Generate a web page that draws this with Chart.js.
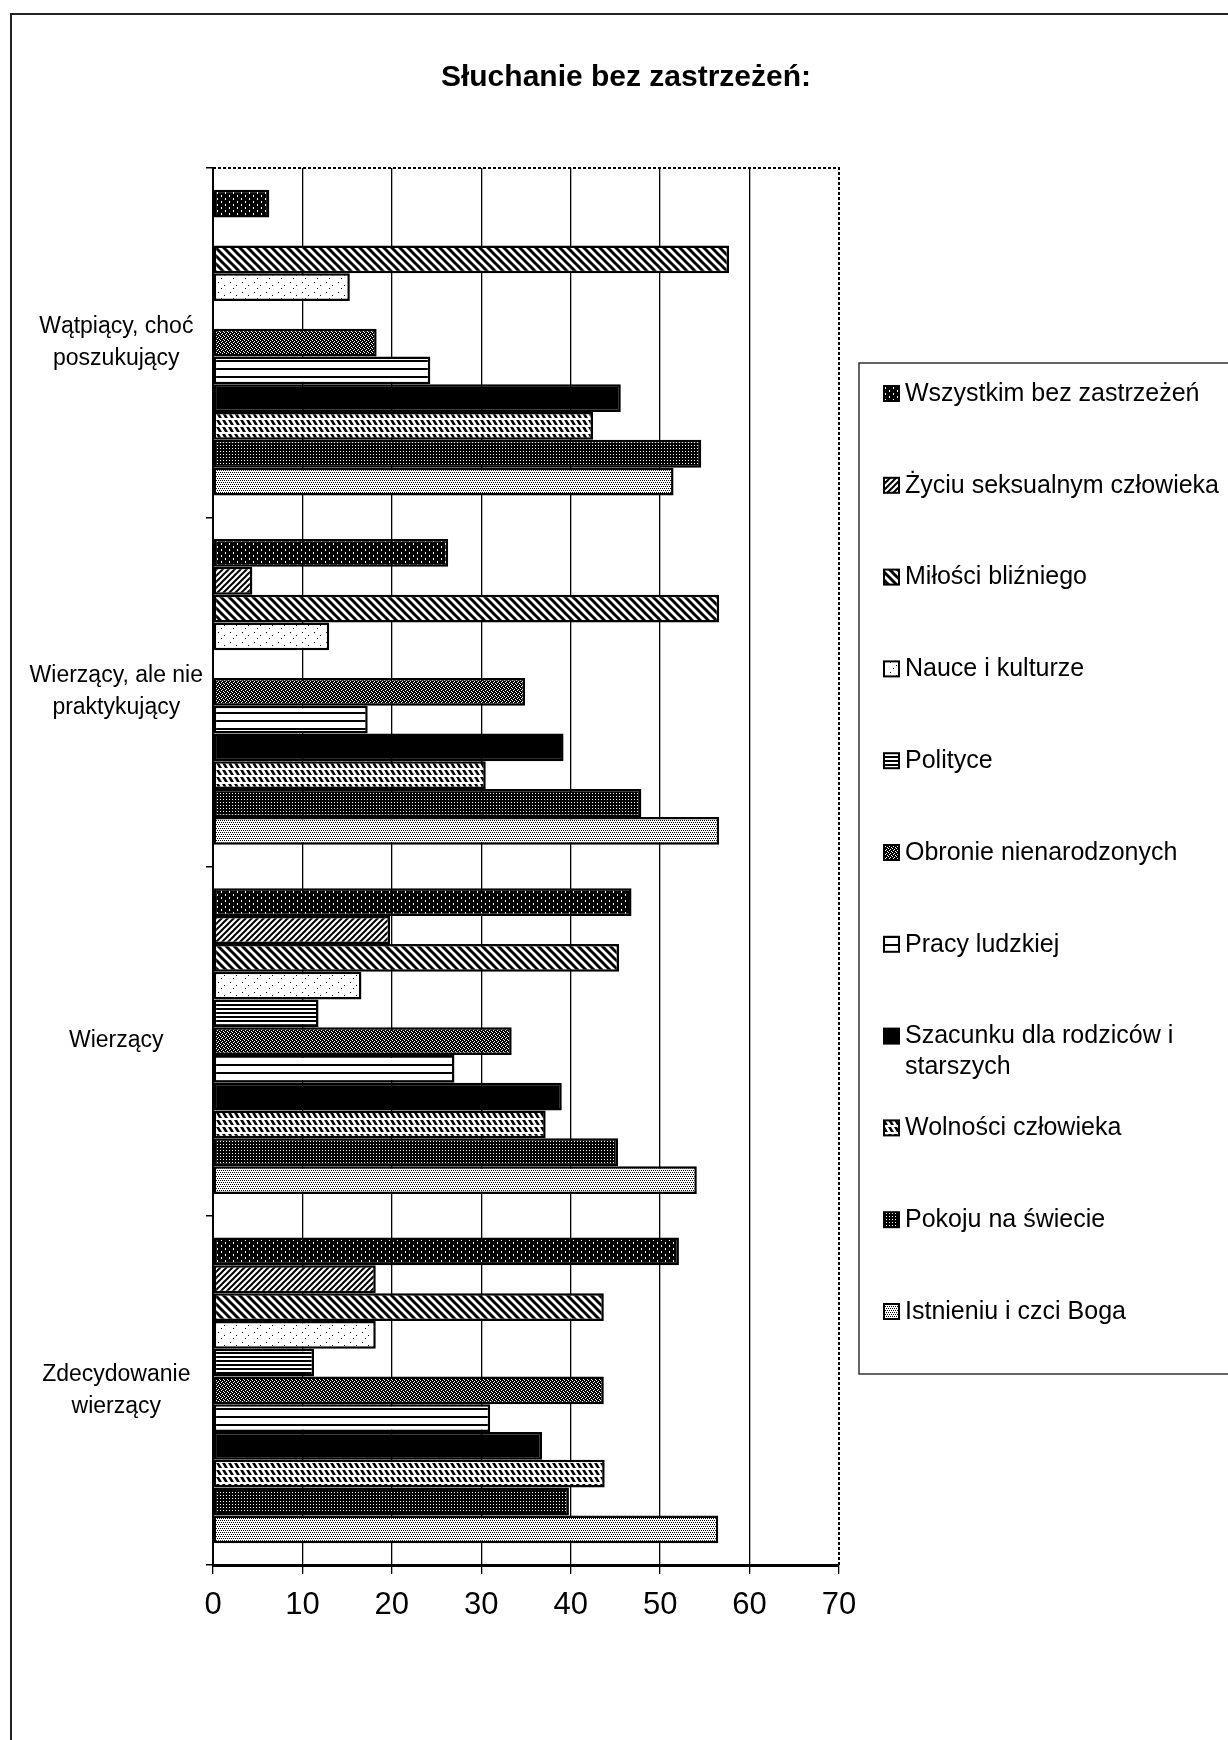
<!DOCTYPE html>
<html>
<head>
<meta charset="utf-8">
<script src="https://cdn.jsdelivr.net/npm/chart.js@4/dist/chart.umd.min.js"></script>
<style>
  body { margin: 0; background: #fff; }
  canvas { display: block; }
</style>
</head>
<body>
<canvas id="chart" width="1228" height="1740"></canvas>
<script>
const FONT = "'Liberation Sans', Arial, sans-serif";

const titleText = "Słuchanie bez zastrzeżeń:";
const categories = [
  ["Wątpiący, choć", "poszukujący"],
  ["Wierzący, ale nie", "praktykujący"],
  "Wierzący",
  ["Zdecydowanie", "wierzący"]
];
const seriesNames = [
  "Wszystkim bez zastrzeżeń",
  "Życiu seksualnym człowieka",
  "Miłości bliźniego",
  "Nauce i kulturze",
  "Polityce",
  "Obronie nienarodzonych",
  "Pracy ludzkiej",
  ["Szacunku dla rodziców i", "starszych"],
  "Wolności człowieka",
  "Pokoju na świecie",
  "Istnieniu i czci Boga"
];
const wszystkim = [6.3, 26.3, 46.8, 52.1];
const zyciu = [0, 4.4, 19.8, 18.2];
const milosci = [57.7, 56.6, 45.4, 43.7];
const nauce = [15.3, 13.0, 16.6, 18.2];
const polityce = [0, 0, 11.8, 11.3];
const obronie = [18.3, 34.9, 33.4, 43.7];
const pracy = [24.3, 17.3, 27.0, 31.0];
const szacunku = [45.6, 39.2, 39.0, 36.8];
const wolnosci = [42.5, 30.5, 37.2, 43.8];
const pokoju = [54.6, 47.9, 45.3, 39.8];
const istnieniu = [51.5, 56.6, 54.1, 56.5];
const xTicks = [0, 10, 20, 30, 40, 50, 60, 70];

// black & white fill patterns like the old Excel print
function makePattern(w, h, draw) {
  const c = document.createElement("canvas");
  c.width = w;
  c.height = h;
  const g = c.getContext("2d");
  g.fillStyle = "#fff";
  g.fillRect(0, 0, w, h);
  g.fillStyle = "#000";
  g.strokeStyle = "#000";
  draw(g, w, h);
  return g.createPattern(c, "repeat");
}

const patterns = [
  makePattern(8, 6, (g) => {
    g.fillRect(0, 0, 8, 6);
    g.fillStyle = "#fff";
    g.fillRect(1, 0, 1, 2);
    g.fillRect(5, 3, 1, 2);
  }),
  makePattern(6, 6, (g) => {
    g.lineWidth = 2;
    for (let o = -6; o <= 6; o += 6) {
      g.beginPath();
      g.moveTo(-1 + o, 7);
      g.lineTo(7 + o, -1);
      g.stroke();
    }
  }),
  makePattern(8, 8, (g) => {
    g.lineWidth = 3;
    for (let o = -8; o <= 8; o += 8) {
      g.beginPath();
      g.moveTo(-1 + o, -1);
      g.lineTo(9 + o, 9);
      g.stroke();
    }
  }),
  makePattern(12, 10, (g) => {
    g.fillRect(2, 2, 1, 1);
    g.fillRect(8, 5, 1, 1);
    g.fillRect(5, 8, 1, 1);
  }),
  makePattern(4, 4, (g) => {
    g.fillRect(0, 0, 4, 2);
  }),
  makePattern(4, 4, (g) => {
    g.fillRect(0, 0, 4, 4);
    g.fillStyle = "#fff";
    g.fillRect(0, 0, 1, 1);
    g.fillRect(2, 1, 1, 1);
    g.fillRect(1, 2, 1, 1);
    g.fillRect(3, 3, 1, 1);
  }),
  makePattern(4, 8, (g) => {
    g.fillRect(0, 0, 4, 2);
  }),
  "#000",
  makePattern(6, 7, (g) => {
    for (let o = -6; o <= 6; o += 6) {
      g.beginPath();
      g.moveTo(o, 0);
      g.lineTo(o + 3, 0);
      g.lineTo(o + 6, 5);
      g.lineTo(o + 3, 5);
      g.closePath();
      g.fill();
    }
  }),
  makePattern(3, 3, (g) => {
    g.fillRect(0, 0, 3, 3);
    g.fillStyle = "#fff";
    g.fillRect(1, 1, 1, 1);
  }),
  makePattern(4, 4, (g) => {
    g.fillRect(0, 0, 1, 1);
    g.fillRect(2, 0, 1, 1);
    g.fillRect(1, 2, 1, 1);
    g.fillRect(3, 2, 1, 1);
  })
];

const seriesValues = [wszystkim, zyciu, milosci, nauce, polityce, obronie, pracy, szacunku, wolnosci, pokoju, istnieniu];

const datasets = seriesNames.map((name, i) => ({
  label: name,
  data: seriesValues[i],
  backgroundColor: patterns[i],
  borderColor: "#000",
  borderWidth: 2.5,
  borderSkipped: false,
  categoryPercentage: 0.875,
  barPercentage: 1.0
}));

// page frame, title, dashed plot border and the boxed legend
const decor = {
  id: "decor",
  beforeDraw(chart) {
    const ctx = chart.ctx;
    ctx.save();
    ctx.fillStyle = "#fff";
    ctx.fillRect(0, 0, chart.width, chart.height);
    ctx.strokeStyle = "#222";
    ctx.lineWidth = 2;
    ctx.beginPath();
    ctx.moveTo(11, chart.height);
    ctx.lineTo(11, 14);
    ctx.lineTo(chart.width, 14);
    ctx.stroke();
    ctx.fillStyle = "#000";
    ctx.font = "bold 30px " + FONT;
    ctx.textAlign = "center";
    ctx.textBaseline = "middle";
    ctx.fillText(titleText, 626, 78);
    ctx.restore();
  },
  afterDraw(chart) {
    const ctx = chart.ctx;
    const a = chart.chartArea;
    ctx.save();
    ctx.strokeStyle = "#000";
    ctx.lineWidth = 2;
    ctx.setLineDash([3, 2]);
    ctx.beginPath();
    ctx.moveTo(a.left, a.top);
    ctx.lineTo(a.right, a.top);
    ctx.lineTo(a.right, a.bottom);
    ctx.stroke();
    ctx.setLineDash([]);

    // legend box
    const lx = 859, ly = 363, lh = 1011;
    ctx.strokeStyle = "#333";
    ctx.lineWidth = 1.5;
    ctx.strokeRect(lx, ly, chart.width - lx + 10, lh);
    ctx.font = "25px " + FONT;
    ctx.textAlign = "left";
    ctx.textBaseline = "middle";
    chart.data.datasets.forEach((ds, i) => {
      const y = ly + 31 + i * 91.8;
      ctx.fillStyle = ds.backgroundColor;
      ctx.fillRect(884, y - 8, 15, 15);
      ctx.strokeStyle = "#000";
      ctx.lineWidth = 2;
      ctx.strokeRect(884, y - 8, 15, 15);
      ctx.fillStyle = "#000";
      const lines = Array.isArray(ds.label) ? ds.label : [ds.label];
      lines.forEach((t, k) => ctx.fillText(t, 905, y + k * 31));
    });
    ctx.restore();
  }
};

new Chart(document.getElementById("chart"), {
  type: "bar",
  data: { labels: categories, datasets: datasets },
  plugins: [decor],
  options: {
    indexAxis: "y",
    responsive: false,
    animation: false,
    layout: { padding: { top: 168, right: 389, bottom: 0, left: 0 } },
    plugins: {
      legend: { display: false },
      title: { display: false },
      tooltip: { enabled: false }
    },
    scales: {
      x: {
        min: 0,
        max: 70,
        afterBuildTicks: (scale) => {
          scale.ticks = xTicks.map((v) => ({ value: v }));
        },
        afterFit: (scale) => {
          scale.height = 175;
        },
        border: { color: "#000", width: 3 },
        grid: {
          color: (c) => (c.tick && c.tick.value === 70 ? "rgba(0,0,0,0)" : "#000"),
          tickColor: "#000",
          lineWidth: 1.3,
          tickLength: 9
        },
        ticks: {
          color: "#000",
          padding: 13,
          font: { family: FONT, size: 31 }
        }
      },
      y: {
        afterFit: (scale) => {
          scale.width = 213;
        },
        border: { color: "#000", width: 2 },
        grid: {
          offset: true,
          drawOnChartArea: false,
          color: "#000",
          lineWidth: 1.5,
          tickLength: 7
        },
        ticks: {
          color: "#000",
          crossAlign: "center",
          padding: 3,
          font: { family: FONT, size: 23, lineHeight: 1.4 }
        }
      }
    }
  }
});
</script>
</body>
</html>
